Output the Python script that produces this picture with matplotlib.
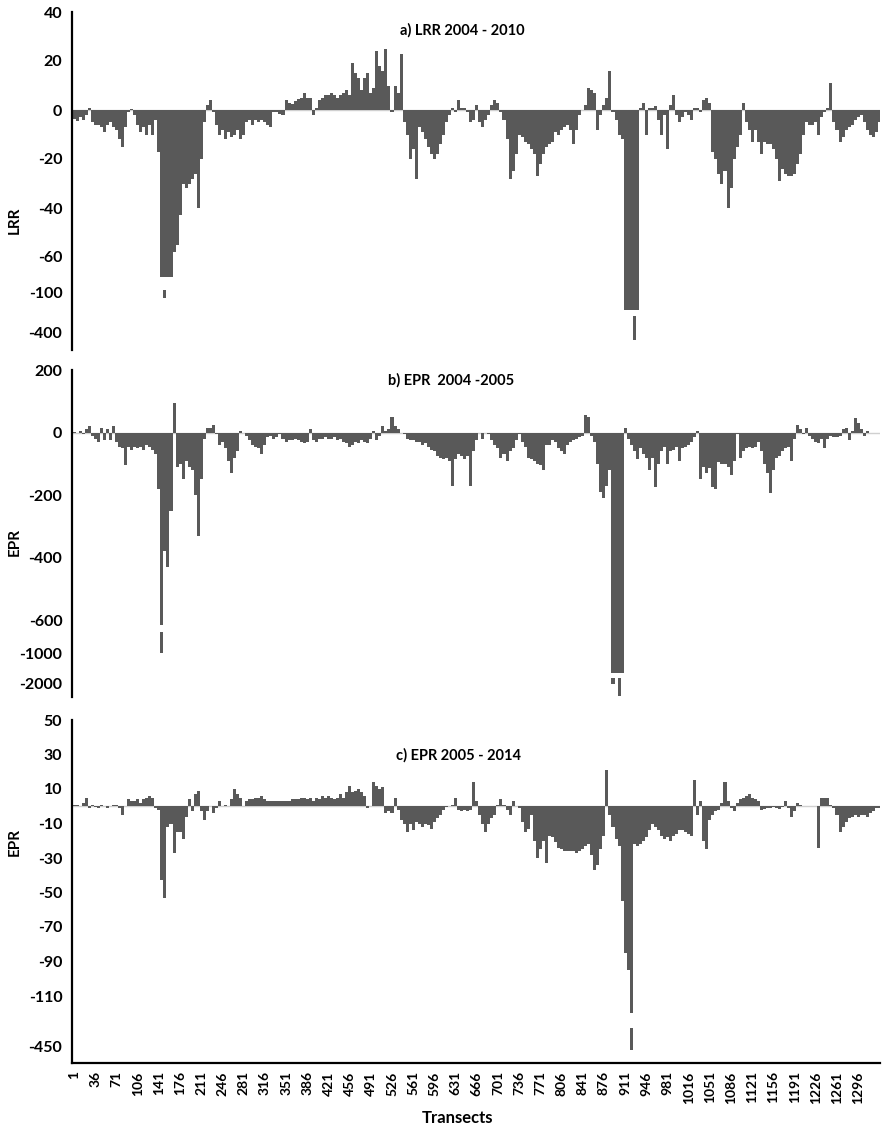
import numpy as np
import matplotlib
matplotlib.use('Agg')
import matplotlib.pyplot as plt

plt.rcParams['font.family'] = ['Lato', 'DejaVu Sans']
plt.rcParams['axes.unicode_minus'] = False

#------------------------------------------------------------------------------
# Data: every 5th transect
transects = np.arange(1, 1332, 5)

tick_labels = [1, 36, 71, 106, 141, 176, 211, 246, 281, 316, 351, 386, 421, 456,
               491, 526, 561, 596, 631, 666, 701, 736, 771, 806, 841, 876, 911,
               946, 981, 1016, 1051, 1086, 1121, 1156, 1191, 1226, 1261, 1296]

lrr_2004_2010 = [
    -3.7, -4.4, -3, -4, -2, 1, -5, -6, -6, -7,
    -9, -6, -5, -7, -8, -12, -15, -7, -1, 0.5,
    -2, -6, -9, -7, -10, -6, -10, -4, -17, -90,
    -137, -90, -88, -58, -55, -43, -30, -32, -30, -28,
    -26, -40, -20, -5, 2, 4, -1, -6, -10, -8,
    -12, -9, -11, -10, -8, -12, -10, -5, -4, -6,
    -4, -5, -4, -5, -6, -7, -1, -1, -1.5, -2,
    4, 3, 2.5, 3.5, 4.5, 5, 7, 5, 5, -2,
    1, 4, 5, 6, 6, 7, 6, 5, 6, 7,
    8, 6, 19, 15, 13, 8, 13, 15, 7, 9,
    24, 18, 16, 25, 10, -1, 10, 7, 23, -5,
    -10, -20, -16, -28, -7, -9, -12, -15, -18, -20,
    -18, -14, -10, -5, -2, 1, -1, 4, 1, 1,
    -1, -5, -4, 2, -5, -7, -4, -2, 2, 4,
    3, -1, -4, -12, -28, -25, -18, -10, -11, -13,
    -14, -16, -18, -27, -22, -18, -15, -14, -13, -9,
    -10, -8, -7, -6, -8, -14, -8, -2, 0, 2,
    9, 8, 7, -8, -2, 2, 5, 16, -1, -4,
    -10, -12, -250, -250, -250, -450, -250, 1, 3, -10,
    1, 1, 1.5, -4, -10, -2, -16, 2, 6, -2,
    -5, -3, -1, -2, -4, 1, 1, -1, 4, 5,
    3, -17, -20, -26, -30, -25, -40, -32, -20, -15,
    -10, 3, -5, -8, -13, -8, -13, -18, -13, -14,
    -14, -16, -20, -29, -24, -26, -27, -27, -26, -22,
    -18, -10, -5, -6, -6, -5, -10, -3, -1, 1,
    11, -5, -8, -13, -11, -8, -7, -6, -4, -3,
    -2, -5, -8, -10, -11, -9, -5]

epr_2004_2005 = [
    2, -3, 5, -5, 10, 20, -10, -20, -30, 15,
    -25, 10, -25, 20, -30, -45, -50, -105, -45, -55,
    -45, -50, -45, -55, -40, -45, -55, -70, -180, -1000,
    -380, -430, -250, 95, -110, -100, -150, -90, -110, -120,
    -200, -330, -150, -20, 15, 15, 25, -5, -40, -30,
    -50, -90, -130, -80, -60, 5, 0, -10, -25, -40,
    -45, -50, -70, -40, -15, -10, -20, -15, -5, -20,
    -30, -25, -25, -20, -25, -30, -35, -30, 10, -25,
    -30, -20, -20, -15, -20, -20, -15, -25, -20, -30,
    -35, -45, -40, -30, -35, -25, -30, -35, -20, 5,
    -25, -10, 20, 5, 10, 50, 20, 10, 0, -5,
    -20, -25, -25, -30, -30, -40, -35, -45, -55, -60,
    -75, -80, -85, -80, -90, -170, -85, -70, -75, -85,
    -75, -170, -60, -25, 0, -20, 0, -5, -25, -40,
    -50, -80, -70, -90, -60, -50, -25, -5, -30, -45,
    -80, -85, -90, -100, -105, -120, -40, -40, -25, -30,
    -50, -60, -70, -40, -30, -25, -20, -15, -10, 55,
    50, -10, -30, -100, -190, -210, -170, -120, -2050, -1750,
    -2450, -1750, 15, -20, -40, -60, -85, -50, -70, -80,
    -120, -80, -175, -100, -60, -45, -100, -60, -55, -45,
    -90, -50, -45, -40, -30, -15, 5, -150, -110, -130,
    -115, -175, -180, -95, -100, -100, -110, -135, -90, -5,
    -80, -60, -50, -45, -50, -45, -30, -60, -100, -130,
    -195, -120, -80, -75, -60, -50, -45, -90, -20, 25,
    10, -5, 15, -10, -20, -30, -35, -20, -50, -20,
    -10, -15, -15, -10, 10, 15, -25, 5, 45, 30,
    10, -10, 5, 0, 0, 0, 0]

epr_2005_2014 = [
    1, 0.5, 0, 2, 5, -1, 1, -0.5, -1, 0.5,
    0, -1, 0, 1, 0.5, -1, -5, 0, 4, 3,
    3, 4, 2, 4, 5, 6, 5, -1, -2, -43,
    -53, -12, -10, -27, -15, -15, -19, -6, 4, -3,
    7, 9, -3, -8, -3, 0, -4, -1, 3, 0,
    1, 0, 4, 10, 7, 5, 0, 3, 4, 4,
    5, 5, 6, 4, 3, 3, 3, 3, 3, 3,
    3, 3, 4, 4, 4, 5, 5, 4, 5, 3,
    5, 4, 6, 5, 6, 5, 4, 5, 7, 5,
    8, 12, 8, 9, 10, 8, 6, -1, 0, 14,
    12, 10, 11, -4, -3, -4, 5, -2, -8, -10,
    -15, -10, -14, -9, -10, -12, -10, -11, -13, -9,
    -7, -5, -2, -0.5, 0, 0.5, 5, -2, -3, -2,
    -3, -2, 14, 3, -5, -10, -15, -10, -7, -5,
    1, 4, 1, -2, -5, 3, 0, -1, -9, -15,
    -13, -5, -20, -30, -25, -20, -33, -17, -18, -21,
    -24, -25, -26, -26, -26, -26, -27, -26, -25, -23,
    -22, -28, -37, -34, -25, -17, 21, -5, -12, -19,
    -23, -55, -85, -95, -470, -22, -23, -22, -20, -18,
    -14, -10, -12, -14, -17, -19, -18, -20, -17, -16,
    -14, -14, -15, -16, -17, 15, -5, 3, -20, -25,
    -8, -5, -3, -2, 2, 14, 3, -1, -3, 2,
    4, 5, 6, 7, 5, 4, 3, -2, -1.5, -1,
    -1, -0.5, -1, -1.5, -0.5, 3, -1, -6, -3, 2,
    0.5, 0, 0, 0, 0, 0, -24, 5, 5, 5,
    1, -1, -5, -15, -12, -9, -7, -6, -5, -6,
    -5, -5, -6, -4, -3, -1, -1]

#------------------------------------------------------------------------------
# Broken y axes: value -> pixel row of the original figure (piecewise linear)
def pw(x, xp, fp):
    x = np.asarray(x, dtype=float)
    out = np.interp(x, xp, fp)
    s0 = (fp[1] - fp[0]) / (xp[1] - xp[0])
    s1 = (fp[-1] - fp[-2]) / (xp[-1] - xp[-2])
    out = np.where(x < xp[0], fp[0] + (x - xp[0]) * s0, out)
    out = np.where(x > xp[-1], fp[-1] + (x - xp[-1]) * s1, out)
    return out

def broken_scale(vals, rows):
    v = np.array(vals, dtype=float)[::-1]
    p = -np.array(rows, dtype=float)[::-1]
    return (lambda y: pw(y, v, p)), (lambda q: pw(q, p, v))

W, H = 886, 1129
fig = plt.figure(figsize=(W / 100, H / 100), dpi=100)

panels = [
    # data, knots (value, pixel row), ticks, gaps (first idx, last idx, lo, hi), ylabel, title
    (lrr_2004_2010, [40, -60, -100, -400, -530], [12, 257, 293, 333, 350],
     [40, 20, 0, -20, -40, -60, -100, -400],
     [(29, 32, -97, -82), (182, 186, -275, -227)],
     'LRR', 220, 'a) LRR 2004 - 2010', (462, 30)),
    (epr_2004_2005, [200, -600, -1000, -2000, -2470], [370, 620, 653, 683, 697],
     [200, 0, -200, -400, -600, -1000, -2000],
     [(29, 29, -742, -660), (178, 181, -1843, -1677)],
     'EPR', 542, 'b) EPR  2004 -2005', (451, 380)),
    (epr_2005_2014, [50, -110, -450, -557], [720, 996, 1047, 1063],
     [50, 30, 10, -10, -30, -50, -70, -90, -110, -450],
     [(184, 184, -325, -225)],
     'EPR', 842, 'c) EPR 2005 - 2014', (459, 755)),
]

left, right = 72, 880
bar_col = '#595959'

for k, (vals, kv, kp, ticks, gaps, ylab, ylab_y, title, tpos) in enumerate(panels):
    top, bot = kp[0], kp[-1]
    ax = fig.add_axes([left / W, 1 - bot / H, (right - left) / W, (bot - top) / H])
    fwd, inv = broken_scale(kv, kp)
    ax.set_yscale('function', functions=(fwd, inv))
    ax.set_ylim(kv[-1], kv[0])
    ax.set_xlim(-2.5, 1332)

    ax.axhline(0, color='#d0d0d0', lw=1, zorder=1)
    ax.bar(transects, vals, width=5, color=bar_col, linewidth=0, zorder=2)

    # white bands where the axis is broken
    for i0, i1, lo, hi in gaps:
        ax.fill_between([transects[i0] - 2.5, transects[i1] + 2.5], lo, hi,
                        color='white', linewidth=0, zorder=3)

    ax.set_yticks(ticks)
    ax.set_yticklabels([str(t) for t in ticks], fontweight='bold', fontsize=11.5)
    ax.tick_params(axis='y', length=0, pad=7)
    ax.minorticks_off()

    for s in ['top', 'right']:
        ax.spines[s].set_visible(False)
    ax.spines['left'].set_linewidth(1.6)
    ax.spines['left'].set_color('black')

    if k < 2:
        ax.spines['bottom'].set_visible(False)
        ax.set_xticks([])
    else:
        ax.spines['bottom'].set_linewidth(1.6)
        ax.spines['bottom'].set_color('black')
        ax.set_xticks(tick_labels)
        ax.set_xticklabels([str(t) for t in tick_labels], rotation=90,
                           fontweight='bold', fontsize=10)
        ax.tick_params(axis='x', length=0, pad=6)

    fig.text(15 / W, 1 - ylab_y / H, ylab, rotation=90, ha='center', va='center',
             fontweight='bold', fontsize=11)
    fig.text(tpos[0] / W, 1 - tpos[1] / H, title, ha='center', va='center',
             fontweight='bold', fontsize=10.5)

fig.text(458 / W, 1 - 1118 / H, 'Transects', ha='center', va='center',
         fontweight='bold', fontsize=12)

plt.savefig('out.png', dpi=100)
